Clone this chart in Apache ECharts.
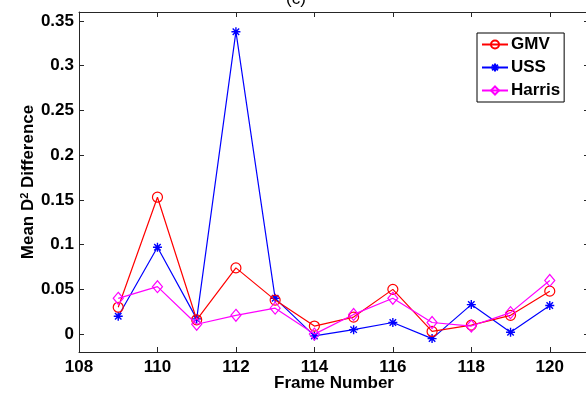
<!DOCTYPE html>
<html><head><meta charset="utf-8">
<script src="https://cdn.jsdelivr.net/npm/echarts@6/dist/echarts.min.js"></script>
<style>html,body{margin:0;padding:0;background:#fff}#c{width:586px;height:393px}</style>
</head><body><div id="c"></div>
<script>
var frames = [109,110,111,112,113,114,115,116,117,118,119,120];
var gmv    = [0.030,0.153,0.016,0.074,0.038,0.009,0.019,0.050,0.003,0.010,0.021,0.048];
var uss    = [0.020,0.097,0.017,0.338,0.040,-0.002,0.005,0.013,-0.005,0.033,0.002,0.032];
var harris = [0.040,0.053,0.011,0.021,0.029,0.000,0.022,0.040,0.013,0.009,0.024,0.060];
var xTicks = [108,110,112,114,116,118,120];
var yTicks = [0,0.05,0.1,0.15,0.2,0.25,0.3,0.35];

function pairs(v){ return frames.map(function(f,i){ return [f, v[i]]; }); }
var FONT = 'Liberation Sans, Arial, sans-serif';
var AX = '#262626';
var star = 'path://M0,-5L0,5M-5,0L5,0M-3.6,-3.6L3.6,3.6M-3.6,3.6L3.6,-3.6';

var chart = echarts.init(document.getElementById('c'));
var xBase = {
  type:'value', min:108, max:121,
  axisLine:{show:true, onZero:false, lineStyle:{color:AX, width:1}},
  axisTick:{show:true, inside:true, length:5, lineStyle:{color:AX}, customValues:xTicks},
  splitLine:{show:false}
};
var yBase = {
  type:'value', min:-0.02, max:0.36,
  axisLine:{show:true, onZero:false, lineStyle:{color:AX, width:1}},
  axisTick:{show:true, inside:true, length:5, lineStyle:{color:AX}, customValues:yTicks},
  splitLine:{show:false}
};
chart.setOption({
  animation:false,
  title:{text:'(c)', left:281, top:-14, textStyle:{fontFamily:FONT, fontSize:17, fontWeight:'normal', color:'#000'}},
  grid:{left:79, top:12, right:-3, bottom:41, containLabel:false, outerBoundsMode:'none'},
  legend:{
    left:477, top:33, orient:'vertical', itemWidth:26, itemHeight:10, itemGap:6,
    padding:[3,4,3,4], borderColor:'#000', borderWidth:1, backgroundColor:'#fff',
    textStyle:{fontFamily:FONT, fontSize:17, fontWeight:'bold', color:'#000', lineHeight:16, padding:[0,0,0,-2]},
    data:['GMV','USS','Harris']
  },
  xAxis:[
    Object.assign({}, xBase, {position:'bottom', name:'Frame Number', nameLocation:'middle', nameGap:23, nameMoveOverlap:false,
      nameTextStyle:{fontFamily:FONT, fontSize:17, fontWeight:'bold', color:'#000'},
      axisLabel:{show:true, customValues:xTicks, margin:7, fontFamily:FONT, fontSize:17, fontWeight:'bold', color:'#000'}}),
    Object.assign({}, xBase, {position:'top', axisLabel:{show:false}})
  ],
  yAxis:[
    Object.assign({}, yBase, {position:'left', name:'{a|Mean D}{s|2}{a| Difference}', nameLocation:'middle', nameGap:41, nameRotate:90, nameMoveOverlap:false,
      nameTextStyle:{rich:{a:{fontFamily:FONT, fontSize:17, fontWeight:'bold', color:'#000'}, s:{fontFamily:FONT, fontSize:11, fontWeight:'bold', color:'#000', verticalAlign:'top', padding:[0,0,8,0]}}},
      axisLabel:{show:true, customValues:yTicks, margin:5, fontFamily:FONT, fontSize:17, fontWeight:'bold', color:'#000',
        formatter:function(v){ return String(Math.round(v*100)/100); }}}),
    Object.assign({}, yBase, {position:'right', axisLabel:{show:false}})
  ],
  series:[
    {name:'GMV', type:'line', data:pairs(gmv), symbol:'circle', symbolSize:10, showAllSymbol:true,
      lineStyle:{color:'#ff0000', width:1.2}, itemStyle:{color:'transparent', borderColor:'#ff0000', borderWidth:1.2}, z:3},
    {name:'USS', type:'line', data:pairs(uss), symbol:star, symbolSize:9, showAllSymbol:true,
      lineStyle:{color:'#0000ff', width:1.2}, itemStyle:{color:'transparent', borderColor:'#0000ff', borderWidth:1.4}, z:2},
    {name:'Harris', type:'line', data:pairs(harris), symbol:'diamond', symbolSize:[10,12], showAllSymbol:true,
      lineStyle:{color:'#ff00ff', width:1.2}, itemStyle:{color:'transparent', borderColor:'#ff00ff', borderWidth:1.2}, z:4}
  ]
});
</script></body></html>
